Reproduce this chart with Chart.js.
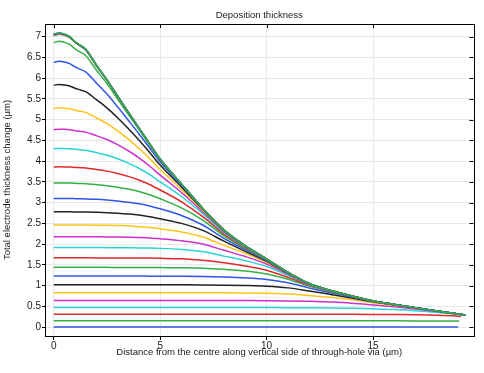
<!DOCTYPE html>
<html>
<head>
<meta charset="utf-8">
<script src="https://cdn.jsdelivr.net/npm/chart.js@4/dist/chart.umd.min.js"></script>
<style>
  html, body { margin: 0; padding: 0; background: #fff; }
  #c { display: block; }
</style>
</head>
<body>
<canvas id="c" width="484" height="373"></canvas>
<script>
// Sample positions along the via side (µm); each curve also has its own last point.
const xGrid = [0, 0.25, 0.5, 0.75, 1, 1.25, 1.5, 2, 2.5, 3, 3.5, 4, 4.5, 5, 6, 7, 8, 9, 10, 11, 12, 13, 14, 15, 16, 17, 18, 19];
const xEnd = [18.98, 19.05, 19.12, 19.2, 19.25, 19.28, 19.3, 19.32, 19.34, 19.34, 19.34, 19.35, 19.35, 19.35, 19.36, 19.36, 19.36, 19.36, 19.36, 19.36, 19.36, 19.36, 19.36, 19.36, 19.36, 19.36, 19.36, 19.36, 19.36, 19.36];

// Thickness change (µm) per time step, values at xGrid then at xEnd
const c00 = [0,0,0,0,0,0,0,0,0,0,0,0,0,0,0,0,0,0,0,0,0,0,0,0,0,0,0,0, 0];
const c01 = [0.15,0.15,0.15,0.15,0.15,0.15,0.15,0.15,0.15,0.15,0.15,0.15,0.15,0.15,0.15,0.15,0.15,0.15,0.15,0.15,0.15,0.15,0.15,0.15,0.15,0.149,0.147,0.145, 0.143];
const c02 = [0.31,0.31,0.31,0.31,0.31,0.31,0.31,0.31,0.31,0.31,0.31,0.31,0.31,0.31,0.31,0.31,0.31,0.31,0.31,0.31,0.309,0.308,0.308,0.306,0.302,0.296,0.285,0.263, 0.25];
const c03 = [0.47,0.47,0.47,0.47,0.47,0.47,0.47,0.47,0.47,0.47,0.47,0.47,0.47,0.47,0.47,0.47,0.47,0.47,0.469,0.468,0.465,0.462,0.453,0.439,0.421,0.393,0.354,0.302, 0.288];
const c04 = [0.64,0.64,0.64,0.64,0.64,0.64,0.64,0.64,0.64,0.64,0.64,0.64,0.64,0.64,0.64,0.64,0.639,0.638,0.636,0.631,0.62,0.602,0.575,0.534,0.49,0.437,0.378,0.311, 0.29];
const c05 = [0.83,0.83,0.83,0.83,0.83,0.83,0.83,0.83,0.83,0.83,0.83,0.83,0.83,0.83,0.83,0.829,0.827,0.823,0.817,0.8,0.764,0.717,0.66,0.586,0.522,0.454,0.385,0.314, 0.29];
const c06 = [1.02,1.02,1.02,1.02,1.02,1.02,1.02,1.02,1.02,1.02,1.02,1.02,1.02,1.019,1.018,1.016,1.011,1.002,0.985,0.945,0.87,0.788,0.703,0.609,0.534,0.46,0.388,0.315, 0.29];
const c07 = [1.23,1.23,1.23,1.23,1.23,1.23,1.23,1.23,1.23,1.23,1.229,1.229,1.228,1.227,1.225,1.22,1.207,1.186,1.148,1.069,0.944,0.83,0.726,0.62,0.54,0.463,0.389,0.316, 0.29];
const c08 = [1.44,1.44,1.44,1.44,1.44,1.44,1.44,1.44,1.44,1.438,1.438,1.437,1.436,1.434,1.429,1.418,1.391,1.351,1.281,1.155,0.987,0.852,0.737,0.624,0.543,0.464,0.389,0.316, 0.29];
const c09 = [1.67,1.67,1.67,1.67,1.67,1.67,1.67,1.668,1.668,1.667,1.666,1.664,1.662,1.658,1.645,1.61,1.55,1.47,1.37,1.2,1.01,0.864,0.743,0.628,0.544,0.465,0.39,0.316, 0.29];
const c10 = [1.92,1.92,1.92,1.92,1.92,1.92,1.92,1.916,1.915,1.914,1.911,1.908,1.904,1.897,1.87,1.82,1.71,1.6,1.46,1.25,1.028,0.871,0.746,0.63,0.545,0.465,0.39,0.316, 0.29];
const c11 = [2.18,2.18,2.18,2.179,2.179,2.178,2.178,2.176,2.174,2.171,2.167,2.16,2.15,2.13,2.08,2.0,1.85,1.7,1.52,1.275,1.036,0.874,0.748,0.63,0.545,0.465,0.39,0.316, 0.29];
const c12 = [2.46,2.46,2.46,2.46,2.459,2.459,2.458,2.456,2.452,2.447,2.44,2.42,2.4,2.37,2.29,2.17,1.97,1.78,1.56,1.294,1.041,0.876,0.749,0.63,0.545,0.465,0.39,0.316, 0.29];
const c13 = [2.78,2.779,2.779,2.778,2.776,2.774,2.773,2.766,2.757,2.743,2.725,2.7,2.66,2.61,2.5,2.33,2.07,1.825,1.583,1.294,1.041,0.877,0.75,0.63,0.545,0.465,0.39,0.316, 0.29];
const c14 = [3.1,3.1,3.099,3.099,3.096,3.093,3.09,3.08,3.063,3.039,3.009,2.971,2.92,2.85,2.69,2.46,2.14,1.865,1.6,1.302,1.044,0.878,0.75,0.63,0.545,0.465,0.39,0.316, 0.29];
const c15 = [3.47,3.474,3.472,3.47,3.465,3.46,3.456,3.434,3.408,3.372,3.326,3.267,3.189,3.093,2.874,2.577,2.2,1.896,1.615,1.308,1.046,0.878,0.75,0.63,0.545,0.465,0.39,0.316, 0.29];
const c16 = [3.86,3.862,3.861,3.856,3.848,3.841,3.834,3.799,3.759,3.703,3.633,3.546,3.437,3.304,3.02,2.663,2.24,1.916,1.625,1.312,1.048,0.879,0.75,0.63,0.545,0.465,0.39,0.316, 0.29];
const c17 = [4.3,4.307,4.304,4.297,4.284,4.273,4.261,4.206,4.143,4.058,3.953,3.829,3.678,3.501,3.147,2.733,2.275,1.932,1.63,1.315,1.049,0.88,0.75,0.63,0.545,0.465,0.39,0.316, 0.29];
const c18 = [4.76,4.771,4.766,4.756,4.734,4.717,4.699,4.615,4.52,4.396,4.25,4.08,3.882,3.662,3.244,2.78,2.3,1.942,1.635,1.317,1.05,0.88,0.75,0.63,0.545,0.465,0.39,0.316, 0.29];
const c19 = [5.27,5.287,5.278,5.262,5.228,5.201,5.174,5.045,4.905,4.731,4.531,4.31,4.063,3.797,3.32,2.815,2.315,1.949,1.638,1.318,1.05,0.88,0.75,0.63,0.545,0.465,0.39,0.316, 0.29];
const c20 = [5.83,5.849,5.836,5.81,5.757,5.716,5.675,5.484,5.284,5.046,4.784,4.508,4.212,3.906,3.378,2.838,2.325,1.955,1.64,1.32,1.05,0.88,0.75,0.63,0.545,0.465,0.39,0.316, 0.29];
const c21 = [6.38,6.407,6.388,6.349,6.271,6.211,6.151,5.884,5.616,5.309,4.987,4.661,4.321,3.983,3.416,2.852,2.333,1.96,1.64,1.32,1.05,0.88,0.75,0.63,0.545,0.465,0.39,0.316, 0.29];
const c22 = [6.85,6.891,6.864,6.812,6.706,6.625,6.545,6.198,5.867,5.5,5.13,4.764,4.394,4.034,3.44,2.858,2.338,1.96,1.64,1.32,1.05,0.88,0.75,0.63,0.545,0.465,0.39,0.316, 0.29];
const c23 = [7.02,7.06,7.035,6.975,6.86,6.77,6.68,6.3,5.945,5.56,5.173,4.795,4.417,4.048,3.449,2.86,2.34,1.96,1.64,1.32,1.05,0.88,0.75,0.63,0.545,0.465,0.39,0.316, 0.29];
const c24 = [7.03,7.068,7.042,6.982,6.865,6.776,6.687,6.308,5.95,5.564,5.176,4.8,4.42,4.05,3.45,2.86,2.34,1.96,1.64,1.32,1.05,0.88,0.75,0.63,0.545,0.465,0.39,0.316, 0.29];
const c25 = [7.04,7.075,7.048,6.988,6.87,6.781,6.692,6.313,5.954,5.57,5.18,4.8,4.42,4.05,3.45,2.86,2.34,1.96,1.64,1.32,1.05,0.88,0.75,0.63,0.545,0.465,0.39,0.316, 0.29];
const c26 = [7.045,7.08,7.052,6.992,6.874,6.785,6.695,6.316,5.96,5.57,5.18,4.8,4.42,4.05,3.45,2.86,2.34,1.96,1.64,1.32,1.05,0.88,0.75,0.63,0.545,0.465,0.39,0.316, 0.29];
const c27 = [7.05,7.084,7.055,6.995,6.876,6.787,6.697,6.318,5.96,5.57,5.18,4.8,4.42,4.05,3.45,2.86,2.34,1.96,1.64,1.32,1.05,0.88,0.75,0.63,0.545,0.465,0.39,0.316, 0.29];
const c28 = [7.055,7.087,7.058,6.998,6.878,6.789,6.699,6.32,5.96,5.57,5.18,4.8,4.42,4.05,3.45,2.86,2.34,1.96,1.64,1.32,1.05,0.88,0.75,0.63,0.545,0.465,0.39,0.316, 0.29];
const c29 = [7.06,7.09,7.06,7.0,6.88,6.79,6.7,6.32,5.96,5.57,5.18,4.8,4.42,4.05,3.45,2.86,2.34,1.96,1.64,1.32,1.05,0.88,0.75,0.63,0.545,0.465,0.39,0.316, 0.29];

const curves = [c00,c01,c02,c03,c04,c05,c06,c07,c08,c09,c10,c11,c12,c13,c14,c15,c16,c17,c18,c19,c20,c21,c22,c23,c24,c25,c26,c27,c28,c29];

const xTicks = [0, 5, 10, 15];
const yTicks = [0, 0.5, 1, 1.5, 2, 2.5, 3, 3.5, 4, 4.5, 5, 5.5, 6, 6.5, 7];
const palette = ['#2e55ea', '#33b044', '#e02a2a', '#2ad2d6', '#cc2fcc', '#ffc21a', '#222222'];

const titleText = 'Deposition thickness';
const xTitle = 'Distance from the centre along vertical side of through-hole via (\u00b5m)';
const yTitle = 'Total electrode thickness change (\u00b5m)';

const FONT = "'Liberation Sans', Arial, sans-serif";
const TXT = '#1a1a1a';
const X_MIN = -0.41, X_MAX = 19.72, Y_MIN = -0.215, Y_MAX = 7.305;

const datasets = curves.map((vals, i) => {
  const pts = xGrid.map((x, k) => ({ x: x, y: vals[k] }));
  pts.push({ x: xEnd[i], y: vals[xGrid.length] });
  return {
    data: pts,
    xAxisID: 'x',
    yAxisID: 'y',
    borderColor: palette[i % palette.length],
    backgroundColor: palette[i % palette.length],
    borderWidth: 1.5,
    pointRadius: 0,
    fill: false,
    cubicInterpolationMode: 'monotone',
    order: curves.length - i
  };
});

const framePlugin = {
  id: 'frame',
  afterDraw(chart) {
    const { ctx, chartArea: a, scales } = chart;
    ctx.save();
    ctx.strokeStyle = '#000';
    ctx.lineWidth = 1;
    ctx.beginPath();
    xTicks.forEach(v => {
      const px = Math.round(scales.x.getPixelForValue(v)) + 0.5;
      ctx.moveTo(px, a.top); ctx.lineTo(px, a.top + 4);
    });
    yTicks.forEach(v => {
      const py = Math.round(scales.y.getPixelForValue(v)) + 0.5;
      ctx.moveTo(a.right, py); ctx.lineTo(a.right - 4, py);
    });
    ctx.stroke();
    ctx.strokeRect(Math.round(a.left) + 0.5, Math.round(a.top) + 0.5,
                   Math.round(a.right - a.left), Math.round(a.bottom - a.top));
    ctx.restore();
  }
};

new Chart(document.getElementById('c'), {
  type: 'line',
  data: { datasets },
  options: {
    responsive: false,
    devicePixelRatio: 1,
    animation: false,
    layout: { padding: { left: 0, right: 10.5, top: 0, bottom: 0 } },
    plugins: {
      legend: { display: false },
      tooltip: { enabled: false },
      title: { display: false }
    },
    scales: {
      x: {
        type: 'linear',
        min: X_MIN,
        max: X_MAX,
        afterFit: s => { s.height = 37; },
        afterBuildTicks: s => { s.ticks = xTicks.map(v => ({ value: v })); },
        grid: { color: '#e8e8e8', lineWidth: 1, tickColor: '#000', tickLength: 4, drawTicks: true },
        border: { display: true, color: '#000', width: 1 },
        ticks: { color: TXT, font: { family: FONT, size: 10 }, padding: 0, maxRotation: 0, autoSkip: false, callback: v => String(v) },
        title: { display: true, text: xTitle, color: TXT, font: { family: FONT, size: 9.5, lineHeight: '12px' }, padding: { top: 0, bottom: 14.5 } }
      },
      xTop: {
        type: 'linear',
        position: 'top',
        min: X_MIN,
        max: X_MAX,
        afterFit: s => { s.height = 24; },
        grid: { display: false, drawTicks: false },
        border: { display: false },
        ticks: { display: false },
        title: { display: true, text: titleText, color: TXT, font: { family: FONT, size: 9.5, lineHeight: '12px' }, padding: { top: 9, bottom: 0 } }
      },
      y: {
        type: 'linear',
        min: Y_MIN,
        max: Y_MAX,
        afterFit: s => { s.width = 45; },
        afterBuildTicks: s => { s.ticks = yTicks.map(v => ({ value: v })); },
        grid: { color: '#e8e8e8', lineWidth: 1, tickColor: '#000', tickLength: 3, drawTicks: true },
        border: { display: true, color: '#000', width: 1 },
        ticks: { color: TXT, font: { family: FONT, size: 10 }, padding: 1, autoSkip: false, callback: v => String(v) },
        title: { display: true, text: yTitle, color: TXT, font: { family: FONT, size: 9.5, lineHeight: '12px' }, padding: { top: 1, bottom: 0 } }
      }
    }
  },
  plugins: [framePlugin]
});
</script>
</body>
</html>
